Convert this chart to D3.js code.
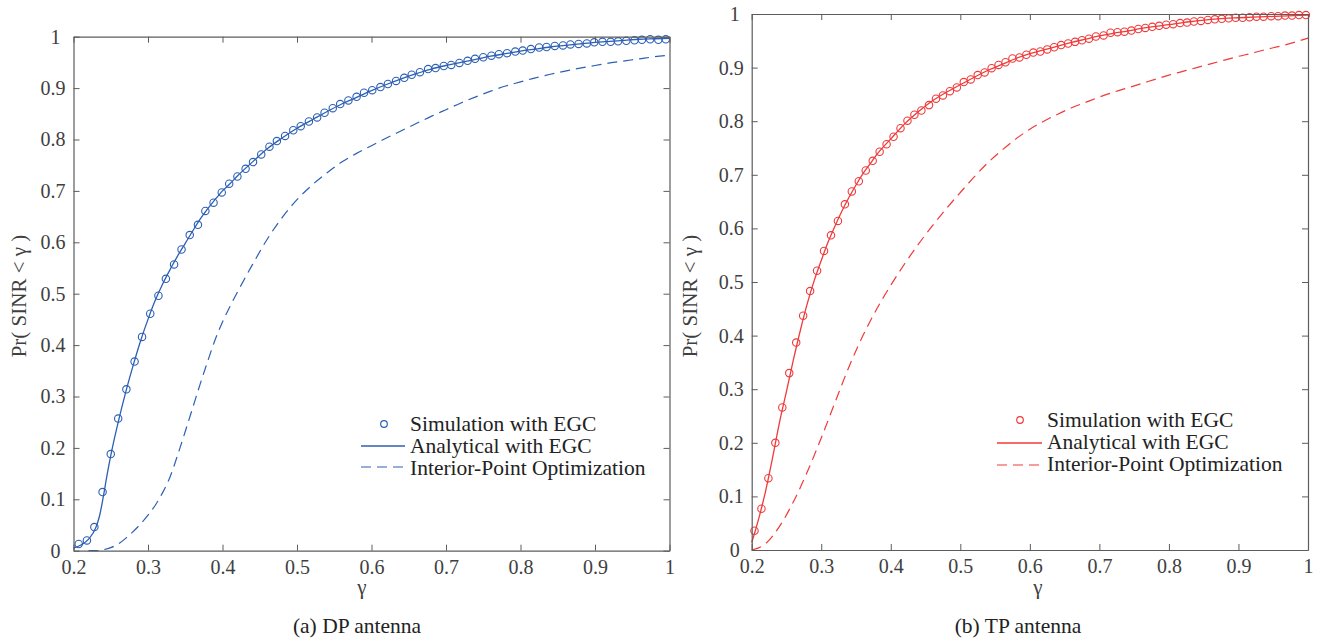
<!DOCTYPE html>
<html>
<head>
<meta charset="utf-8">
<script src="https://cdn.jsdelivr.net/npm/d3@7"></script>
<style>
  body { margin: 0; background: #fff; }
  svg { display: block; font-family: "Liberation Serif", "Times New Roman", serif; }
</style>
</head>
<body>
<svg id="chart" width="1323" height="640"></svg>
<script>
// ---- axis ticks and labels ----
const xTicks = [0.2, 0.3, 0.4, 0.5, 0.6, 0.7, 0.8, 0.9, 1.0];
const xTickLabels = ["0.2", "0.3", "0.4", "0.5", "0.6", "0.7", "0.8", "0.9", "1"];
const yTicks = [0, 0.1, 0.2, 0.3, 0.4, 0.5, 0.6, 0.7, 0.8, 0.9, 1.0];
const yTickLabels = ["0", "0.1", "0.2", "0.3", "0.4", "0.5", "0.6", "0.7", "0.8", "0.9", "1"];
const legendLabels = ["Simulation with EGC", "Analytical with EGC", "Interior-Point Optimization"];
const xAxisTitle = "γ";
const yAxisTitle = "Pr( SINR < γ )";
const captions = ["(a) DP antenna", "(b) TP antenna"];

// ---- (a) DP antenna ----
const dpSimGamma = [0.207,0.218,0.228,0.239,0.250,0.260,0.271,0.282,0.292,0.303,0.314,0.324,0.335,0.345,0.356,
  0.367,0.377,0.388,0.399,0.409,0.420,0.431,0.441,0.452,0.463,0.473,0.484,0.495,0.505,0.516,0.527,0.537,0.548,
  0.558,0.569,0.580,0.590,0.601,0.612,0.622,0.633,0.644,0.654,0.665,0.676,0.686,0.697,0.707,0.718,0.729,0.739,
  0.750,0.761,0.771,0.782,0.793,0.803,0.814,0.825,0.835,0.846,0.857,0.867,0.878,0.889,0.899,0.910,0.921,0.931,
  0.942,0.953,0.963,0.974,0.985,0.995];
const dpSimValue = [0.013,0.020,0.046,0.114,0.188,0.257,0.314,0.368,0.416,0.461,0.496,0.529,0.557,0.586,0.614,
  0.634,0.661,0.677,0.697,0.714,0.728,0.743,0.756,0.771,0.786,0.797,0.807,0.818,0.826,0.835,0.843,0.852,0.861,
  0.869,0.876,0.883,0.891,0.896,0.902,0.908,0.914,0.920,0.926,0.931,0.937,0.939,0.943,0.945,0.949,0.953,0.957,
  0.960,0.963,0.966,0.968,0.971,0.973,0.976,0.979,0.980,0.982,0.983,0.985,0.986,0.987,0.989,0.990,0.990,0.991,
  0.992,0.993,0.994,0.995,0.994,0.995];

const dpAnaGamma = [0.200,0.210,0.220,0.230,0.235,0.240,0.245,0.250,0.260,0.270,0.280,0.290,0.300,0.310,0.320,
  0.330,0.340,0.350,0.360,0.370,0.380,0.390,0.400,0.410,0.420,0.440,0.460,0.480,0.500,0.520,0.540,0.560,0.580,
  0.600,0.620,0.640,0.660,0.680,0.700,0.720,0.740,0.760,0.780,0.800,0.820,0.840,0.860,0.880,0.900,0.920,0.940,
  0.960,0.980,1.000];
const dpAnaValue = [0.005,0.011,0.022,0.045,0.068,0.105,0.147,0.185,0.250,0.308,0.360,0.408,0.450,0.488,0.520,
  0.548,0.574,0.598,0.622,0.645,0.665,0.683,0.700,0.714,0.729,0.756,0.782,0.803,0.822,0.838,0.854,0.869,0.882,
  0.895,0.907,0.918,0.928,0.937,0.944,0.950,0.956,0.962,0.967,0.972,0.976,0.980,0.983,0.986,0.989,0.991,0.993,
  0.995,0.996,0.997];

const dpIpoGamma = [0.220,0.230,0.240,0.250,0.260,0.270,0.280,0.290,0.300,0.310,0.320,0.330,0.340,0.350,0.360,
  0.370,0.380,0.390,0.400,0.410,0.420,0.440,0.460,0.480,0.500,0.520,0.540,0.560,0.580,0.600,0.620,0.640,0.660,
  0.680,0.700,0.720,0.740,0.760,0.780,0.800,0.820,0.840,0.860,0.880,0.900,0.920,0.940,0.960,0.980,1.000];
const dpIpoValue = [0.000,0.000,0.002,0.006,0.013,0.024,0.037,0.052,0.069,0.089,0.114,0.145,0.187,0.232,0.278,
  0.324,0.368,0.410,0.445,0.475,0.503,0.556,0.606,0.648,0.683,0.711,0.735,0.756,0.773,0.788,0.803,0.817,0.831,
  0.845,0.858,0.871,0.883,0.894,0.904,0.912,0.920,0.927,0.933,0.939,0.944,0.949,0.953,0.957,0.961,0.964];

// ---- (b) TP antenna ----
const tpSimGamma = [0.204,0.214,0.224,0.234,0.244,0.254,0.264,0.274,0.284,0.294,0.304,0.314,0.324,0.334,0.344,
  0.354,0.364,0.374,0.384,0.394,0.404,0.414,0.424,0.434,0.444,0.455,0.465,0.475,0.485,0.495,0.505,0.515,0.525,
  0.535,0.545,0.555,0.565,0.575,0.585,0.595,0.605,0.615,0.625,0.635,0.645,0.655,0.665,0.675,0.685,0.695,0.706,
  0.716,0.726,0.736,0.746,0.756,0.766,0.776,0.786,0.796,0.806,0.816,0.826,0.836,0.846,0.856,0.866,0.876,0.886,
  0.896,0.906,0.916,0.926,0.936,0.947,0.957,0.967,0.977,0.987,0.997];
const tpSimValue = [0.036,0.077,0.134,0.200,0.266,0.330,0.387,0.437,0.483,0.521,0.558,0.587,0.614,0.645,0.669,
  0.688,0.708,0.726,0.743,0.757,0.771,0.787,0.801,0.812,0.820,0.830,0.842,0.848,0.856,0.863,0.873,0.878,0.886,
  0.891,0.899,0.905,0.910,0.917,0.919,0.924,0.928,0.930,0.934,0.938,0.942,0.945,0.948,0.951,0.954,0.958,0.960,
  0.965,0.966,0.967,0.969,0.972,0.974,0.976,0.978,0.980,0.981,0.983,0.984,0.986,0.987,0.989,0.990,0.991,0.992,
  0.993,0.993,0.994,0.995,0.995,0.996,0.996,0.997,0.997,0.998,0.998];

const tpAnaGamma = [0.200,0.205,0.210,0.215,0.220,0.225,0.230,0.240,0.250,0.260,0.270,0.280,0.290,0.300,0.310,
  0.320,0.330,0.340,0.350,0.360,0.370,0.380,0.390,0.400,0.420,0.440,0.460,0.480,0.500,0.520,0.540,0.560,0.580,
  0.600,0.620,0.640,0.660,0.680,0.700,0.720,0.740,0.760,0.780,0.800,0.820,0.840,0.860,0.880,0.900,0.920,0.940,
  0.960,0.980,1.000];
const tpAnaValue = [0.014,0.035,0.058,0.083,0.110,0.140,0.172,0.238,0.296,0.355,0.410,0.460,0.503,0.540,0.575,
  0.605,0.633,0.658,0.681,0.702,0.720,0.738,0.753,0.767,0.795,0.818,0.838,0.854,0.868,0.882,0.895,0.906,0.917,
  0.926,0.933,0.940,0.947,0.953,0.959,0.964,0.968,0.973,0.977,0.980,0.984,0.987,0.990,0.992,0.993,0.994,0.995,
  0.996,0.997,0.998];

const tpIpoGamma = [0.200,0.210,0.220,0.240,0.260,0.280,0.300,0.320,0.340,0.360,0.380,0.400,0.420,0.440,0.460,
  0.480,0.500,0.520,0.540,0.560,0.580,0.600,0.620,0.640,0.660,0.680,0.700,0.720,0.740,0.760,0.780,0.800,0.820,
  0.840,0.860,0.880,0.900,0.920,0.940,0.960,0.980,1.000];
const tpIpoValue = [0.000,0.004,0.012,0.044,0.090,0.146,0.209,0.276,0.342,0.400,0.450,0.494,0.534,0.571,0.605,
  0.637,0.667,0.696,0.723,0.746,0.767,0.785,0.800,0.813,0.825,0.835,0.845,0.854,0.862,0.870,0.878,0.886,0.893,
  0.900,0.907,0.914,0.921,0.927,0.934,0.940,0.947,0.955];

// ---- layout of the two panels ----
const panels = [
  { left: 73.5, right: 669.5, top: 36.7, bottom: 550.7, color: "#2c5fb5", intShift: -5,
    sim: [dpSimGamma, dpSimValue], ana: [dpAnaGamma, dpAnaValue], ipo: [dpIpoGamma, dpIpoValue],
    yTitleX: 19, xTitleX: 362, captionX: 357, caption: captions[0],
    legend: { markerX: 384, lineX0: 361, lineX1: 405, textX: 410, textY: [423, 445, 467], symY: [424, 446, 467] } },
  { left: 751.7, right: 1308, top: 14, bottom: 550, color: "#f03a3a", intShift: -4,
    sim: [tpSimGamma, tpSimValue], ana: [tpAnaGamma, tpAnaValue], ipo: [tpIpoGamma, tpIpoValue],
    yTitleX: 690, xTitleX: 1038, captionX: 1018, caption: captions[1],
    legend: { markerX: 1020, lineX0: 997, lineX1: 1042, textX: 1047, textY: [419, 441, 463], symY: [420, 443, 465] } }
];

const svg = d3.select("#chart");
const axisColor = "#5c5c5c";
const textColor = "#404040";
const fontFamily = '"Liberation Serif", "Times New Roman", serif';

function styleAxis(g) {
  g.attr("font-family", fontFamily).attr("font-size", 20);
  g.selectAll(".domain").attr("stroke", axisColor).attr("stroke-width", 1.2);
  g.selectAll(".tick line").attr("stroke", axisColor).attr("stroke-width", 1);
  g.selectAll(".tick text").attr("fill", textColor);
}

function drawPanel(p) {
  const g = svg.append("g");
  const x = d3.scaleLinear().domain([0.2, 1]).range([p.left, p.right]);
  const y = d3.scaleLinear().domain([0, 1]).range([p.bottom, p.top]);
  const line = d3.line().x(d => x(d[0])).y(d => y(d[1])).curve(d3.curveMonotoneX);

  // interior-point optimization (dashed)
  g.append("path")
    .datum(d3.zip(p.ipo[0], p.ipo[1]))
    .attr("d", line)
    .attr("fill", "none")
    .attr("stroke", p.color)
    .attr("stroke-width", 1.2)
    .attr("stroke-dasharray", "10,6");

  // analytical curve (solid)
  g.append("path")
    .datum(d3.zip(p.ana[0], p.ana[1]))
    .attr("d", line)
    .attr("fill", "none")
    .attr("stroke", p.color)
    .attr("stroke-width", 1.3);

  // simulation markers
  g.selectAll("circle.sim")
    .data(d3.zip(p.sim[0], p.sim[1]))
    .join("circle")
    .attr("class", "sim")
    .attr("cx", d => x(d[0]))
    .attr("cy", d => y(d[1]))
    .attr("r", 3.7)
    .attr("fill", "none")
    .attr("stroke", p.color)
    .attr("stroke-width", 1.1);

  // box axes with inward ticks
  const bottomAxis = d3.axisBottom(x).tickValues(xTicks).tickFormat((d, i) => xTickLabels[i])
    .tickSizeInner(-6).tickSizeOuter(0).tickPadding(9);
  const topAxis = d3.axisTop(x).tickValues(xTicks).tickFormat("").tickSizeInner(-6).tickSizeOuter(0);
  const leftAxis = d3.axisLeft(y).tickValues(yTicks).tickFormat((d, i) => yTickLabels[i])
    .tickSizeInner(-6).tickSizeOuter(0).tickPadding(8);
  const rightAxis = d3.axisRight(y).tickValues(yTicks).tickFormat("").tickSizeInner(-6).tickSizeOuter(0);

  g.append("g").attr("transform", `translate(0,${p.bottom})`).call(bottomAxis).call(styleAxis);
  g.append("g").attr("transform", `translate(0,${p.top})`).call(topAxis).call(styleAxis);
  const la = g.append("g").attr("transform", `translate(${p.left},0)`).call(leftAxis).call(styleAxis);
  // whole-number labels ("0", "1") sit a little further from the axis
  la.selectAll(".tick text").filter(function () { return this.textContent.indexOf(".") < 0; })
    .attr("dx", p.intShift);
  g.append("g").attr("transform", `translate(${p.right},0)`).call(rightAxis).call(styleAxis);

  // axis titles
  const midY = 296;
  g.append("text")
    .attr("transform", `translate(${p.yTitleX},${midY}) rotate(-90)`)
    .attr("text-anchor", "middle")
    .attr("dy", "0.35em")
    .attr("font-size", 21)
    .attr("fill", textColor)
    .text(yAxisTitle);
  g.append("text")
    .attr("x", p.xTitleX).attr("y", 594)
    .attr("text-anchor", "middle")
    .attr("font-size", 21)
    .attr("fill", textColor)
    .text(xAxisTitle);

  // caption under the panel
  g.append("text")
    .attr("x", p.captionX).attr("y", 633)
    .attr("text-anchor", "middle")
    .attr("font-size", 21.5)
    .attr("fill", "#222")
    .text(p.caption);

  // legend
  const L = p.legend;
  const lg = g.append("g");
  lg.append("circle")
    .attr("cx", L.markerX).attr("cy", L.symY[0]).attr("r", 3.3)
    .attr("fill", "none").attr("stroke", p.color).attr("stroke-width", 1.2);
  lg.append("line")
    .attr("x1", L.lineX0).attr("x2", L.lineX1).attr("y1", L.symY[1]).attr("y2", L.symY[1])
    .attr("stroke", p.color).attr("stroke-width", 1.3);
  lg.append("line")
    .attr("x1", L.lineX0).attr("x2", L.lineX1).attr("y1", L.symY[2]).attr("y2", L.symY[2])
    .attr("stroke", p.color).attr("stroke-width", 1.2).attr("stroke-dasharray", "10,6");
  lg.selectAll("text.leg")
    .data(legendLabels)
    .join("text")
    .attr("class", "leg")
    .attr("x", L.textX)
    .attr("y", (d, i) => L.textY[i])
    .attr("dy", "0.35em")
    .attr("font-size", 21.5)
    .attr("fill", "#222")
    .text(d => d);
}

panels.forEach(drawPanel);
</script>
</body>
</html>
